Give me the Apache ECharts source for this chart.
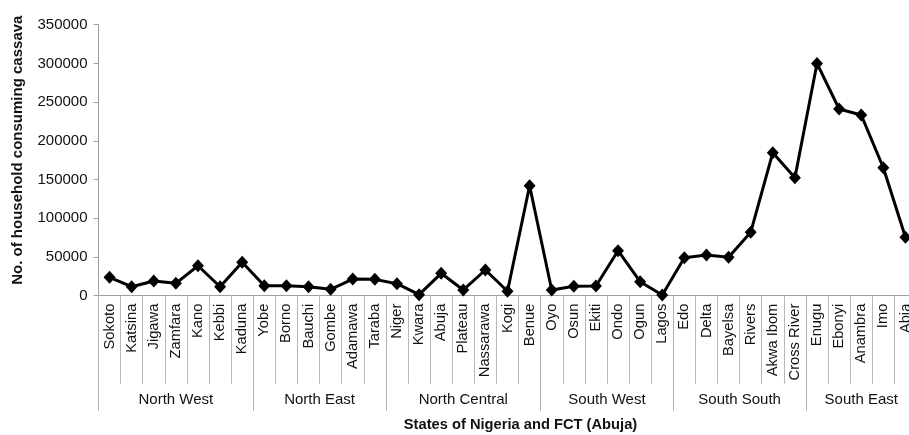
<!DOCTYPE html>
<html>
<head>
<meta charset="utf-8">
<script src="https://cdn.jsdelivr.net/npm/echarts@6/dist/echarts.min.js"></script>
<style>
html,body{margin:0;padding:0;background:#fff;overflow:hidden;}
#chart{width:909px;height:435px;}
</style>
</head>
<body>
<div id="chart"></div>
<script>
const states = ['Sokoto','Katsina','Jigawa','Zamfara','Kano','Kebbi','Kaduna',
  'Yobe','Borno','Bauchi','Gombe','Adamawa','Taraba',
  'Niger','Kwara','Abuja','Plateau','Nassarawa','Kogi','Benue',
  'Oyo','Osun','Ekiti','Ondo','Ogun','Lagos',
  'Edo','Delta','Bayelsa','Rivers','Akwa Ibom','Cross River',
  'Enugu','Ebonyi','Anambra','Imo','Abia'];
const households = [23700,11600,19000,16000,38700,11600,43100,
  12900,12900,11600,8300,21500,21100,
  15500,1300,28900,7400,33200,5700,142000,
  7400,12100,12500,58100,18100,900,
  49100,52600,49600,81900,184700,152400,
  300000,241100,233400,165300,75400];
const zones = ['North West','North East','North Central','South West','South South','South East'];
const zoneSizes = [7,6,7,6,6,5];
const yTicks = [0,50000,100000,150000,200000,250000,300000,350000];

// build half-band positions for zone labels (boundaryGap false axis of 2*n+1 points)
const n = states.length;
const halfData = new Array(2*n+1).fill('');
const boundaries = new Set([0]);
let acc = 0;
zones.forEach((z,i)=>{
  const start = acc; acc += zoneSizes[i];
  boundaries.add(2*acc);
  halfData[start + acc] = z;
});

const chart = echarts.init(document.getElementById('chart'));
const textColor = '#111';
const ff = 'Liberation Sans';
chart.setOption({
  animation:false,
  grid:{left:98.5, top:24.7, width:818, bottom:139.3, containLabel:false, outerBoundsMode:'none'},
  xAxis:[{
    type:'category', data:states, boundaryGap:true, position:'bottom',
    axisLine:{show:true, lineStyle:{color:'#a0a0a0', width:1}},
    axisTick:{show:true, interval:0, length:88, lineStyle:{color:'#b8b8b8', width:1}},
    axisLabel:{interval:0, rotate:90, margin:8, fontSize:14.7, color:textColor, fontFamily:ff, hideOverlap:false}
  },{
    type:'category', data:halfData, boundaryGap:false, position:'bottom', offset:0,
    axisLine:{show:false},
    axisTick:{show:true, length:115, interval:(i)=>boundaries.has(i), lineStyle:{color:'#b0b0b0', width:1}},
    axisLabel:{show:true, interval:(i,v)=>v!=='', margin:97, fontSize:15, color:textColor, fontFamily:ff},
    name:'States of Nigeria and FCT (Abuja)', nameLocation:'middle', nameGap:122,
    nameTextStyle:{fontSize:14.7, fontWeight:'bold', color:textColor, fontFamily:ff, padding:[0,0,0,26]}
  }],
  yAxis:{
    type:'value', min:yTicks[0], max:yTicks[yTicks.length-1], interval:50000,
    splitLine:{show:false},
    axisLine:{show:true, lineStyle:{color:'#a0a0a0', width:1}},
    axisTick:{show:true, length:5, lineStyle:{color:'#a0a0a0'}},
    axisLabel:{fontSize:15, color:textColor, margin:11, fontFamily:ff, formatter:(v)=>String(v)},
    name:'No. of household consuming cassava', nameLocation:'middle', nameRotate:90, nameGap:73,
    nameTextStyle:{fontSize:15, fontWeight:'bold', color:textColor, fontFamily:ff, padding:[0,0,0,20]}
  },
  series:[{
    type:'line', data:households, xAxisIndex:0,
    symbol:'diamond', symbolSize:[12,13], showAllSymbol:true,
    lineStyle:{color:'#000', width:3},
    itemStyle:{color:'#000'},
    clip:false, z:5
  }]
});
</script>
</body>
</html>
